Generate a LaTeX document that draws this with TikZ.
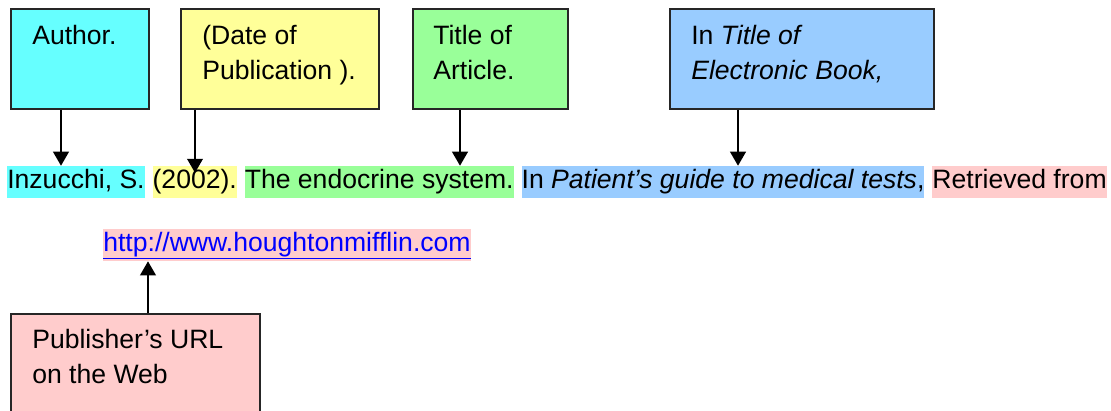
\documentclass[tikz,border=0pt]{standalone}
\usepackage{fontspec}
\setmainfont{Liberation Sans}
\usetikzlibrary{positioning, arrows.meta}

\definecolor{authcyan}{HTML}{66FFFF}
\definecolor{dateyellow}{HTML}{FFFF99}
\definecolor{titlegreen}{HTML}{99FF99}
\definecolor{bookblue}{HTML}{99CCFF}
\definecolor{urlpink}{HTML}{FFCCCC}
\definecolor{linkblue}{HTML}{0000FF}

\tikzset{
	partbox/.style = {draw = black!85, line width = 1.2pt, anchor = north west, inner sep = 0pt},
	boxtext/.style = {anchor = base west, align = left, inner sep = 0pt},
	marked/.style = {inner xsep = 0pt, inner ysep = 0pt, text height = 15.6pt, text depth = 7.1pt},
	pointer/.style = {line width = 1.8pt, -{Triangle[length = 10pt, width = 11pt]}}
}

\begin{document}
\begin{tikzpicture}[x = 0.025cm, y = -0.025cm, font = \fontsize{18.9}{24.2}\selectfont, node distance = 0.185cm]

	\useasboundingbox (0, 0) rectangle (1111, 410);

	% Boxes naming the parts of the reference
	
	\node [partbox, fill = authcyan, minimum width = 3.45cm, minimum height = 2.5cm] (author) at (10, 8) {};
	\node [partbox, fill = dateyellow, minimum width = 4.95cm, minimum height = 2.5cm] (date) at (180, 8) {};
	\node [partbox, fill = titlegreen, minimum width = 3.875cm, minimum height = 2.5cm] (title) at (412, 8) {};
	\node [partbox, fill = bookblue, minimum width = 6.6cm, minimum height = 2.5cm] (book) at (669, 8) {};
	
	% (base of a two line text is its last line)
	\node [boxtext] (author-txt) at ([shift = {(22, 36)}]author.north west) {Author.};
	\node [boxtext] (date-txt) at ([shift = {(22, 71)}]date.north west) {(Date of\\Publication ).};
	\node [boxtext] (title-txt) at ([shift = {(21, 71)}]title.north west) {Title of\\Article.};
	\node [boxtext] (book-txt) at ([shift = {(22, 71)}]book.north west) {In \textit{Title of}\\\textit{Electronic Book,}};
	
	% Reference line with highlighted parts
	
	\node [marked, fill = authcyan, anchor = base west] (cit-au) at (7, 188) {Inzucchi, S.};
	\node [marked, fill = dateyellow, base right = of cit-au] (cit-dt) {(2002).};
	\node [marked, fill = titlegreen, base right = of cit-dt] (cit-ti) {The endocrine system.};
	\node [marked, fill = bookblue, base right = of cit-ti] (cit-bk) {In \textit{Patient’s guide to medical tests},};
	\node [marked, fill = urlpink, base right = of cit-bk] (cit-rt) {Retrieved from};
	
	\node [marked, fill = urlpink, anchor = base west, text = linkblue] (url) at (103, 251) {\underline{http://www.houghtonmifflin.com}};
	
	% Arrows down to the reference
	
	\foreach \part/\cit/\x/\s in {author/cit-au/61/0, date/cit-dt/195/-5, title/cit-ti/460/0, book/cit-bk/738/0}
	{
		\draw [pointer, shorten > = \s pt] (\x, 0 |- \part.south) -- (\x, 0 |- \cit.north);
	}
	
	% Publisher box and arrow up to the URL
	
	\node [partbox, fill = urlpink, minimum width = 6.225cm, minimum height = 2.75cm] (publisher) at (10, 313) {};
	\node [boxtext] (publisher-txt) at ([shift = {(22, 70)}]publisher.north west) {Publisher’s URL\\on the Web};
	
	\draw [pointer] (148, 0 |- publisher.north) -- (148, 0 |- url.south);

\end{tikzpicture}
\end{document}
